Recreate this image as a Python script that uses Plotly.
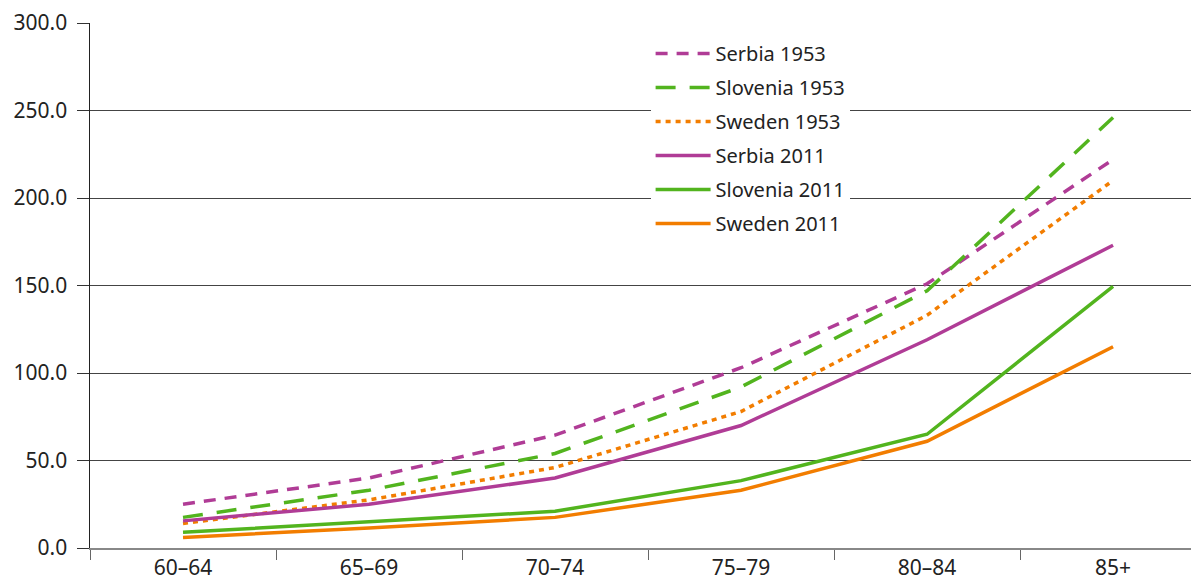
import plotly.graph_objects as go

categories = ["60–64", "65–69", "70–74", "75–79", "80–84", "85+"]
serbia_1953 = [25.0, 40.0, 64.5, 103.0, 151.0, 222.0]
slovenia_1953 = [17.5, 33.0, 54.0, 92.0, 147.0, 246.0]
sweden_1953 = [14.0, 27.5, 46.0, 78.0, 133.0, 210.0]
serbia_2011 = [15.5, 25.0, 40.0, 70.0, 119.0, 173.0]
slovenia_2011 = [9.0, 15.0, 21.0, 38.5, 65.0, 149.5]
sweden_2011 = [6.0, 11.5, 17.5, 33.0, 61.0, 115.0]
y_ticks = [0, 50, 100, 150, 200, 250, 300]

PURPLE = "#B03C96"
GREEN = "#52B41E"
ORANGE = "#F27D00"

series = [
    ("Serbia 1953", serbia_1953, PURPLE, "12px,9px"),
    ("Slovenia 1953", slovenia_1953, GREEN, "20px,14px"),
    ("Sweden 1953", sweden_1953, ORANGE, "5px,5px"),
    ("Serbia 2011", serbia_2011, PURPLE, "solid"),
    ("Slovenia 2011", slovenia_2011, GREEN, "solid"),
    ("Sweden 2011", sweden_2011, ORANGE, "solid"),
]

fig = go.Figure()
for name, vals, col, dash in series:
    fig.add_trace(go.Scatter(
        x=categories, y=vals, mode="lines", name=name, legendgroup=name,
        line=dict(color=col, width=3.5, dash=dash),
    ))

FONT = "Noto Sans"
fig.update_layout(
    width=1191, height=573,
    margin=dict(l=82, r=0, t=15, b=33),
    paper_bgcolor="white", plot_bgcolor="white",
    font=dict(family=FONT, size=21, color="#222222"),
    showlegend=True,
    legend=dict(
        x=0.5055, y=0.979, xanchor="left", yanchor="top",
        bgcolor="white", borderwidth=0,
        font=dict(family=FONT, size=20, color="#222222"),
        tracegroupgap=5, itemwidth=55,
        traceorder="grouped",
    ),
    xaxis=dict(
        type="category", range=[-0.5, 5.462],
        tickson="boundaries", ticks="outside", ticklen=10, tickcolor="#666666",
        showline=True, linecolor="#888888", linewidth=1.5,
        showgrid=False, zeroline=False,
        tickfont=dict(family=FONT, size=21, color="#222222"),
    ),
    yaxis=dict(
        range=[0, 300], tickvals=y_ticks,
        ticktext=[f"{v:.1f}\u00a0" for v in y_ticks],
        ticks="outside", ticklen=12, tickcolor="#333333",
        showline=True, linecolor="#222222", linewidth=1.2,
        showgrid=True, gridcolor="#444444", gridwidth=1,
        zeroline=False, ticklabeloverflow="allow",
        tickfont=dict(family=FONT, size=21, color="#222222"),
    ),
)

fig.write_html("out.html")
